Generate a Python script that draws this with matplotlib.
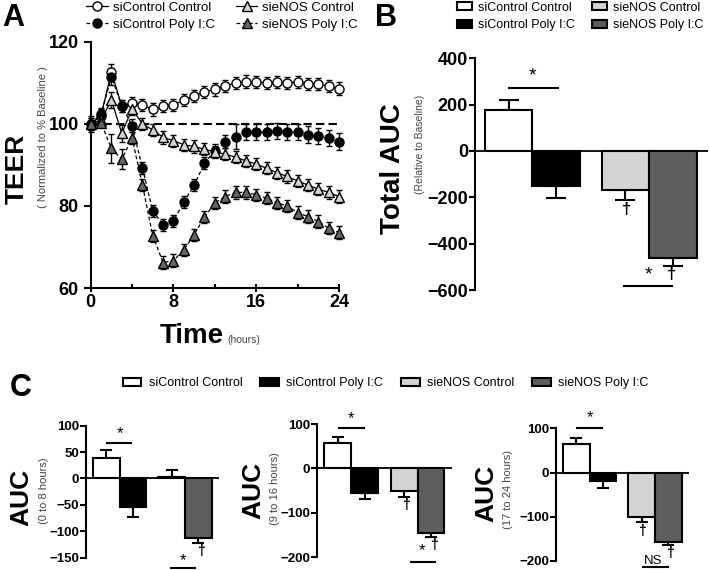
import numpy as np
import matplotlib.pyplot as plt
from matplotlib.lines import Line2D
from matplotlib.patches import Patch

plt.rcParams['font.family'] = ['Liberation Sans', 'DejaVu Sans']

# ---- panel A data (TEER, % of baseline)
hours = np.arange(0, 25)
sictl_ctl = [100, 102, 112.7, 104.3, 105, 104.6, 103.5, 104.4, 104.6, 105.8, 106.8, 107.8, 108.4,
             109.2, 110, 110.3, 110.2, 110, 110.2, 110, 110.2, 109.7, 109.7, 109.2, 108.6]
sictl_pic = [100, 102.4, 111.5, 104.3, 99.6, 89.2, 78.8, 75.4, 76.4, 80.9, 85.1, 90.4, 93.5,
             95.7, 96.9, 98, 98, 98, 98.2, 98, 98, 97.4, 97, 96.5, 95.7]
sienos_ctl = [100, 101, 105.8, 97.7, 103.6, 100, 98.5, 96.7, 95.9, 94.9, 94.5, 93.8, 93.2,
              92.6, 91.9, 91, 90.2, 89.2, 88.1, 87.2, 86.1, 85.1, 84.1, 83.3, 82.3]
sienos_pic = [100, 100.2, 94, 91.4, 96.5, 85.1, 72.7, 66.2, 66.7, 69.3, 73, 77.3, 80.7,
              82.3, 83.3, 83.3, 82.7, 81.9, 80.8, 80, 78.4, 77.4, 76.2, 74.6, 73.5]
sictl_ctl_err = [1.5, 1.5, 2, 1.5, 1.5, 1.5, 1.5, 1.5, 1.5, 1.5, 1.5, 1.5, 1.5,
                 1.5, 1.5, 1.5, 1.5, 1.5, 1.5, 1.5, 1.5, 1.5, 1.5, 1.5, 1.5]
sictl_pic_err = [2, 1.5, 2, 1.5, 1.5, 1.5, 1.5, 1.5, 1.5, 1.5, 1.5, 1.5, 1.5,
                 1.5, 3, 2, 2, 2, 2, 2, 2, 2, 2, 2, 2]
sienos_ctl_err = [1.5, 1.5, 2, 2, 1.5, 1.5, 1.5, 1.5, 1.5, 1.5, 1.5, 1.5, 1.5,
                  1.5, 1.5, 1.5, 1.5, 1.5, 1.5, 1.5, 1.5, 1.5, 1.5, 1.5, 1.5]
sienos_pic_err = [1, 1, 3.5, 2.5, 1.5, 1.5, 1.5, 1.5, 1.5, 1.5, 1.5, 1.5, 1.5,
                  1.5, 1.5, 1.5, 1.5, 1.5, 1.5, 1.5, 1.5, 1.5, 1.5, 1.5, 1.5]
baseline = 100

# ---- bar data: order = siControl Control, siControl Poly I:C, sieNOS Control, sieNOS Poly I:C
groups = ['siControl Control', 'siControl Poly I:C', 'sieNOS Control', 'sieNOS Poly I:C']
bar_colors = ['white', 'black', '#d4d4d4', '#5e5e5e']
total_auc = [178, -149, -167, -461]
total_err = [40, 52, 46, 36]
auc_0_8 = [38, -54, 2, -112]
auc_0_8_err = [15, 19, 14, 11]
auc_9_16 = [58, -55, -51, -145]
auc_9_16_err = [13, 13, 14, 9]
auc_17_24 = [65, -20, -101, -156]
auc_17_24_err = [12, 14, 11, 8]

bar_x = [0, 1, 2.46, 3.46]

fig = plt.figure(figsize=(7.09, 5.70), dpi=100)

# ================= panel A
axA = fig.add_axes([0.128, 0.4947, 0.350, 0.432])
axA.plot([hours[0], hours[-1]], [baseline, baseline], ls=(0, (4, 2)), color='black', lw=1.5, zorder=1)
series = [
    (sictl_ctl, sictl_ctl_err, 'o', 'white', '-'),
    (sictl_pic, sictl_pic_err, 'o', 'black', (0, (3, 2))),
    (sienos_ctl, sienos_ctl_err, '^', '#d4d4d4', '-'),
    (sienos_pic, sienos_pic_err, '^', '#666666', (0, (3, 2))),
]
handlesA = []
for y, e, m, fc, ls in series:
    axA.errorbar(hours, y, yerr=e, fmt='none', ecolor='black', elinewidth=1, capsize=2.5,
                 capthick=1, clip_on=False, zorder=2)
    axA.plot(hours, y, ls=ls, color='black', lw=0.9, marker=m, ms=6.5, mfc=fc, mec='black',
             mew=1, clip_on=False, zorder=3)
    handlesA.append(Line2D([], [], ls=ls, color='black', lw=0.9, marker=m, ms=6.5, mfc=fc,
                           mec='black', mew=1))
axA.set_xlim(0, 24)
axA.set_ylim(60, 120)
axA.set_xticks([0, 8, 16, 24])
axA.set_xticks([4, 12, 20], minor=True)
axA.set_yticks([60, 80, 100, 120])
axA.spines['top'].set_visible(False)
axA.spines['right'].set_visible(False)
for s in ['left', 'bottom']:
    axA.spines[s].set_linewidth(1.5)
axA.tick_params(axis='y', direction='out', length=5, width=1.5, labelsize=13)
axA.tick_params(axis='x', which='major', direction='inout', length=6, width=1.5, labelsize=13, pad=1)
axA.tick_params(axis='x', which='minor', direction='in', length=3, width=1.5)
for lab in axA.get_xticklabels() + axA.get_yticklabels():
    lab.set_fontweight('bold')

fig.text(0.024, 0.7035, 'TEER', rotation=90, ha='center', va='center', fontsize=19, fontweight='bold')
fig.text(0.0607, 0.76, '( Normalized to % Baseline )', rotation=90, ha='center', va='center',
         fontsize=8, color='#444444')
fig.text(0.316, 0.398, 'Time', ha='right', va='baseline', fontsize=20, fontweight='bold')
fig.text(0.320, 0.398, '(hours)', ha='left', va='baseline', fontsize=7.5, color='#444444')

fig.legend(handlesA, groups, loc='upper left', bbox_to_anchor=(0.122, 0.997),
           ncol=2, frameon=False, fontsize=9.5, handlelength=1.6, handletextpad=0.4,
           columnspacing=1.6, labelspacing=0.35, borderpad=0, borderaxespad=0)


def bar_panel(ax, vals, errs, capsize, ticksize):
    lower = [e if v < 0 else 0 for v, e in zip(vals, errs)]
    upper = [e if v >= 0 else 0 for v, e in zip(vals, errs)]
    ax.bar(bar_x, vals, width=1.0, color=bar_colors, edgecolor='black', linewidth=1.5, zorder=2)
    ax.errorbar(bar_x, vals, yerr=[lower, upper], fmt='none', ecolor='black', elinewidth=1.5,
                capsize=capsize, capthick=1.5, zorder=1)
    ax.axhline(0, color='black', lw=1.3, zorder=3)
    for s in ['top', 'right', 'bottom']:
        ax.spines[s].set_visible(False)
    ax.spines['left'].set_linewidth(1.5)
    ax.set_xticks([])
    ax.tick_params(axis='y', direction='out', length=4, width=1.5, labelsize=ticksize, pad=1)
    for lab in ax.get_yticklabels():
        lab.set_fontweight('bold')


def sig(ax, x0, x1, y, txt, tx, ty, fs):
    ax.plot([x0, x1], [y, y], color='black', lw=1.5, clip_on=False)
    ax.text(tx, ty, txt, ha='center', va='center', fontsize=fs, clip_on=False)


# ================= panel B
axB = fig.add_axes([0.670, 0.4912, 0.3286, 0.4065])
bar_panel(axB, total_auc, total_err, 7, 13)
axB.set_xlim(-0.705, 4.2)
axB.set_ylim(-600, 400)
axB.set_yticks([-600, -400, -200, 0, 200, 400])
sig(axB, 0, 1.05, 274, '*', 0.5, 325, 14)
sig(axB, 2.43, 3.44, -582, '*', 2.94, -535, 14)
axB.text(2.49, -252, '†', ha='center', va='center', fontsize=12, fontweight='bold')
axB.text(3.44, -531, '†', ha='center', va='center', fontsize=12, fontweight='bold', clip_on=False)

fig.text(0.554, 0.705, 'Total AUC', rotation=90, ha='center', va='center', fontsize=20, fontweight='bold')
fig.text(0.593, 0.746, '(Relative to Baseline)', rotation=90, ha='center', va='center',
         fontsize=7.5, color='#444444')

bar_handles = [Patch(facecolor=c, edgecolor='black', linewidth=1.5) for c in bar_colors]
fig.legend(bar_handles, groups, loc='upper left', bbox_to_anchor=(0.644, 0.997), ncol=2,
           frameon=False, fontsize=9, handlelength=1.2, handleheight=0.6, handletextpad=0.5,
           columnspacing=1.4, labelspacing=0.45, borderpad=0, borderaxespad=0)

# ================= panel C
c_axes = [
    ([0.1213, 0.0216, 0.1876, 0.2316], auc_0_8, auc_0_8_err, (-150, 100), [-150, -100, -50, 0, 50, 100]),
    ([0.4475, 0.0223, 0.1900, 0.2338], auc_9_16, auc_9_16_err, (-200, 100), [-200, -100, 0, 100]),
    ([0.7842, 0.0158, 0.1876, 0.2328], auc_17_24, auc_17_24_err, (-200, 100), [-200, -100, 0, 100]),
]
axC = []
for rect, vals, errs, lim, ticks in c_axes:
    ax = fig.add_axes(rect)
    bar_panel(ax, vals, errs, 4.5, 9.5)
    ax.set_xlim(-0.76, 4.24)
    ax.set_ylim(*lim)
    ax.set_yticks(ticks)
    axC.append(ax)

sig(axC[0], 0.04, 0.94, 68, '*', 0.5, 85, 12)
sig(axC[0], 2.43, 3.33, -170, '*', 2.87, -155, 12)
axC[0].text(3.56, -138, '†', ha='center', va='center', fontsize=10, fontweight='bold', clip_on=False)

sig(axC[1], 0.03, 0.96, 92, '*', 0.5, 113, 12)
sig(axC[1], 2.72, 3.62, -210, '*', 3.12, -186, 12)
axC[1].text(2.52, -83, '†', ha='center', va='center', fontsize=10, fontweight='bold')
axC[1].text(3.58, -173, '†', ha='center', va='center', fontsize=10, fontweight='bold', clip_on=False)

sig(axC[2], 0.04, 0.97, 101, '*', 0.5, 124, 12)
sig(axC[2], 2.5, 3.46, -213, 'NS', 2.9, -199, 9.5)
axC[2].text(2.46, -133, '†', ha='center', va='center', fontsize=10, fontweight='bold')
axC[2].text(3.52, -182, '†', ha='center', va='center', fontsize=10, fontweight='bold', clip_on=False)

c_labels = [
    (0.030, 0.128, 0.0625, 0.139, '(0 to 8 hours)'),
    (0.358, 0.140, 0.388, 0.142, '(9 to 16 hours)'),
    (0.686, 0.135, 0.716, 0.142, '(17 to 24 hours)'),
]
for x1, y1, x2, y2, sub in c_labels:
    fig.text(x1, y1, 'AUC', rotation=90, ha='center', va='center', fontsize=19, fontweight='bold')
    fig.text(x2, y2, sub, rotation=90, ha='center', va='center', fontsize=8, color='#444444')

fig.legend(bar_handles, groups, loc='center left', bbox_to_anchor=(0.173, 0.328), ncol=4,
           frameon=False, fontsize=9, handlelength=1.5, handleheight=0.6, handletextpad=0.6,
           columnspacing=1.4, borderpad=0, borderaxespad=0)

# panel letters
fig.text(0.003, 0.995, 'A', ha='left', va='top', fontsize=22, fontweight='bold')
fig.text(0.529, 0.995, 'B', ha='left', va='top', fontsize=22, fontweight='bold')
fig.text(0.014, 0.346, 'C', ha='left', va='top', fontsize=22, fontweight='bold')

plt.savefig('out.png', dpi=100)
